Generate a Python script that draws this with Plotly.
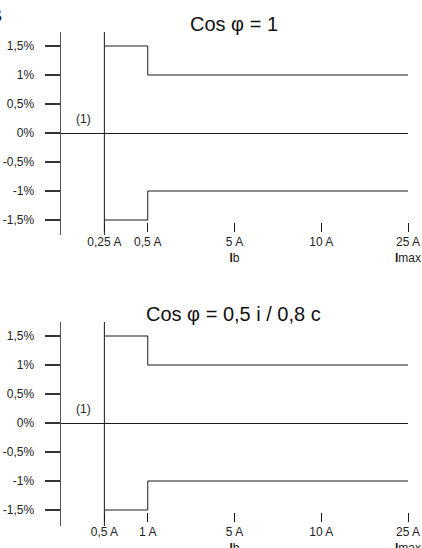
import plotly.graph_objects as go

# ---- data ----
x_pos = [0, 1, 3, 5, 7]                       # ordinal positions of the current ticks
x_labels_top = ["0,25 A", "0,5 A", "5 A<br><b>I</b>b", "10 A", "25 A<br><b>I</b>max"]
x_labels_bot = ["0,5 A", "1 A", "5 A<br><b>I</b>b", "10 A", "25 A<br><b>I</b>max"]
y_ticks = [1.5, 1.0, 0.5, 0.0, -0.5, -1.0, -1.5]
y_ticktext = [f"{v:g}".replace(".", ",") + "%" for v in y_ticks]

# error limit steps: start current, break current, end current (positions)
step_x = [0, 1, 7]
upper_limit = [1.5, 1.0, 1.0]
lower_limit = [-1.5, -1.0, -1.0]

titles = ["Cos φ = 1", "Cos φ = 0,5 i / 0,8 c"]

W, H = 422, 548
def py(px):
    return 1 - px / H

LINE = "#1a1a1a"
FONT = "Liberation Sans, Arial, sans-serif"

fig = go.Figure()

panels = [
    dict(xa="x", ya="y", top=32, bot=235, zero=133, tick=222, labels=x_labels_top),
    dict(xa="x2", ya="y2", top=322, bot=526, zero=423, tick=512, labels=x_labels_bot),
]
pp = 58.0  # px per percent

layout = dict(
    width=W, height=H, margin=dict(l=0, r=0, t=0, b=0, autoexpand=False),
    paper_bgcolor="white", plot_bgcolor="white", showlegend=False,
    font=dict(family=FONT, size=12, color="#222"),
)
annotations = []
shapes = []
for i, p in enumerate(panels):
    sfx = "" if i == 0 else "2"
    rng = [-(p["bot"] - p["zero"]) / pp, (p["zero"] - p["top"]) / pp]
    for yv in (upper_limit, lower_limit):
        fig.add_trace(go.Scatter(x=step_x, y=yv, mode="lines", line_shape="hv",
                                 line=dict(color=LINE, width=1),
                                 xaxis=p["xa"], yaxis=p["ya"], hoverinfo="skip",
                                 cliponaxis=False))
    layout["xaxis" + sfx] = dict(
        domain=[61 / W, 408 / W], range=[-1, 7], anchor="free", position=py(p["tick"]),
        showgrid=False, zeroline=False, showline=False, automargin=False,
        tickmode="array", tickvals=x_pos, ticktext=p["labels"],
        ticks="outside", ticklen=9, tickcolor=LINE, tickwidth=1,
        tickfont=dict(family=FONT, size=12, color="#222"),
    )
    layout["yaxis" + sfx] = dict(
        domain=[py(p["bot"]), py(p["top"])], range=rng, anchor=p["xa"],
        showgrid=False, zeroline=True, zerolinecolor=LINE, zerolinewidth=1,
        showline=True, linecolor="#555", linewidth=1.5, automargin=False,
        tickmode="array", tickvals=y_ticks, ticktext=y_ticktext,
        ticks="outside", ticklen=15, tickcolor="#333", tickwidth=1.5,
        ticklabelstandoff=8,
        tickfont=dict(family=FONT, size=12, color="#222"),
    )
    # vertical line at start current, full height
    shapes.append(dict(type="line", xref=p["xa"], yref=p["ya"] + " domain",
                       x0=step_x[0], x1=step_x[0], y0=0, y1=1,
                       line=dict(color=LINE, width=1)))
    annotations.append(dict(text=titles[i], xref="paper", yref="paper",
                            x=234 / W, y=py(p["top"] - 8.5), xanchor="center",
                            yanchor="middle", showarrow=False,
                            font=dict(family=FONT, size=20, color="#111")))
    annotations.append(dict(text="(1)", xref=p["xa"], yref=p["ya"],
                            x=-0.47, y=0.25, showarrow=False,
                            font=dict(family=FONT, size=12, color="#222")))

annotations.append(dict(text="<b>B</b>", xref="paper", yref="paper",
                        x=4 / W, y=py(15), xanchor="right", yanchor="middle",
                        showarrow=False, font=dict(family=FONT, size=21, color="#111")))
layout["annotations"] = annotations
layout["shapes"] = shapes
fig.update_layout(**layout)
fig.write_html("out.html", config={"displayModeBar": False, "staticPlot": True},
               post_script="document.body.style.margin='0';document.body.style.overflow='hidden';")
